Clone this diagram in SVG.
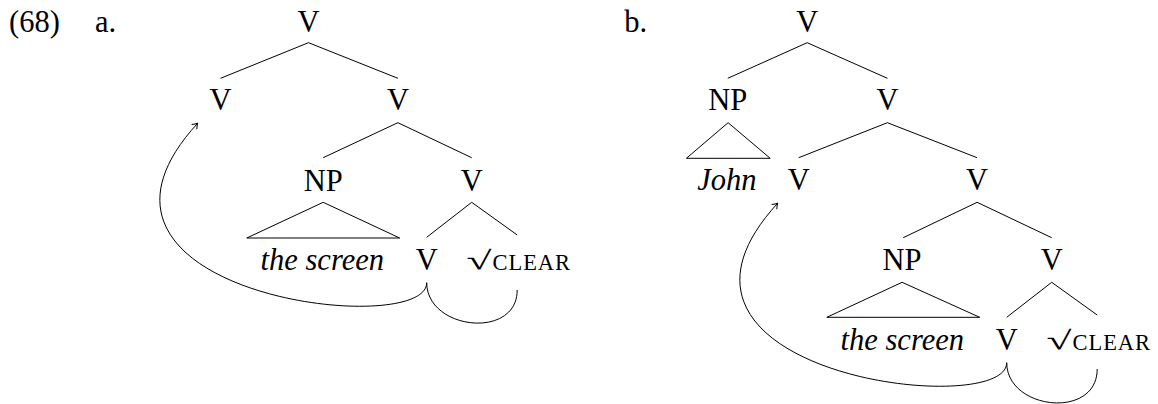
<svg xmlns="http://www.w3.org/2000/svg" width="1158" height="404" viewBox="0 0 1158 404">
  <style>
    text { font-family: "Liberation Serif", "Times New Roman", serif; font-size: 30.5px; fill: #000; }
    .c { text-anchor: middle; }
    .it { font-style: italic; }
    .sc { font-size: 22.5px; }
    .rad { font-family: "Liberation Serif", "DejaVu Serif", serif; font-size: 26px; }
    .br { stroke: #000; stroke-width: 1; fill: none; }
    .mv { stroke: #000; stroke-width: 1; fill: none; }
  </style>
  <defs>
    <marker id="head" viewBox="-6 -4 7 8" markerWidth="7" markerHeight="8" refX="0" refY="0" orient="auto" markerUnits="userSpaceOnUse">
      <path d="M -5,-3.5 Q -2,-1 0,0 Q -2,1 -5,3.5" fill="none" stroke="#000" stroke-width="1"/>
    </marker>
  </defs>

  <!-- example number and sub-labels -->
  <g id="label-68"><text x="9" y="31.7">(68)</text></g>
  <g id="label-a"><text x="95" y="31.7">a.</text></g>
  <g id="label-b"><text x="624.3" y="31.7">b.</text></g>

  <!-- tree (a) -->
  <g id="a-V0"><text class="c" x="308.5" y="31.7">V</text></g>
  <g id="a-V1"><text class="c" x="220.5" y="110">V</text></g>
  <g id="a-V2"><text class="c" x="397.9" y="110">V</text></g>
  <g id="a-NP"><text class="c" x="323.2" y="191">NP</text>
    <polygon class="br" points="323.2,202.3 246.8,238 399.7,238"/></g>
  <g id="a-V3"><text class="c" x="471.7" y="191">V</text></g>
  <g id="a-screen"><text class="c it" x="322.3" y="270">the screen</text></g>
  <g id="a-V4"><text class="c" x="426.7" y="270">V</text></g>
  <g id="a-root">
    <text class="rad" x="466.5" y="268.5" textLength="25" lengthAdjust="spacingAndGlyphs">√</text>
    <text class="sc" x="492.5" y="269.5" textLength="77.5">CLEAR</text>
  </g>

  <!-- tree (b) -->
  <g id="b-V0"><text class="c" x="807.2" y="31.7">V</text></g>
  <g id="b-NP1"><text class="c" x="727.8" y="110">NP</text>
    <polygon class="br" points="728.1,122.7 686.4,158.3 770.2,158.3"/></g>
  <g id="b-V1"><text class="c" x="887.4" y="110">V</text></g>
  <g id="b-john"><text class="c it" x="726.9" y="190">John</text></g>
  <g id="b-V2"><text class="c" x="798.7" y="190">V</text></g>
  <g id="b-V3"><text class="c" x="977.1" y="190">V</text></g>
  <g id="b-NP2"><text class="c" x="902.1" y="270">NP</text>
    <polygon class="br" points="902.1,282.3 826.8,317.3 979.7,317.3"/></g>
  <g id="b-V4"><text class="c" x="1051.7" y="270">V</text></g>
  <g id="b-screen"><text class="c it" x="902.3" y="350">the screen</text></g>
  <g id="b-V5"><text class="c" x="1006.7" y="350">V</text></g>
  <g id="b-root">
    <text class="rad" x="1046.5" y="348.5" textLength="25" lengthAdjust="spacingAndGlyphs">√</text>
    <text class="sc" x="1072.5" y="349.5" textLength="77.5">CLEAR</text>
  </g>

  <!-- branches and movement arrows -->
  <g id="connectors">
    <path class="br" d="M220.5,78.3 L308.5,42.7 L397.9,78.3"/>
    <path class="br" d="M323.2,157.7 L397.9,122.7 L471.7,157.7"/>
    <path class="br" d="M426.7,237.3 L471.7,202.3 L517.2,235"/>
    <path class="mv" marker-end="url(#head)" d="M426.7,282.7 C426.7,340 40,295 197.6,123.3"/>
    <path class="mv" d="M426.7,282.7 C426.7,330 517.2,340 517.2,290"/>

    <path class="br" d="M727.8,78.3 L807.2,42.7 L887.4,78.3"/>
    <path class="br" d="M798.7,157.7 L887.4,122.7 L977.1,157.7"/>
    <path class="br" d="M903.2,237.7 L977.1,202.3 L1051.7,237.7"/>
    <path class="br" d="M1006.7,317.3 L1051.7,282.3 L1097.2,315"/>
    <path class="mv" marker-end="url(#head)" d="M1006.7,362.7 C1006.7,420 620,375 777.6,203.3"/>
    <path class="mv" d="M1006.7,362.7 C1006.7,410 1097.2,420 1097.2,369"/>
  </g>
</svg>
